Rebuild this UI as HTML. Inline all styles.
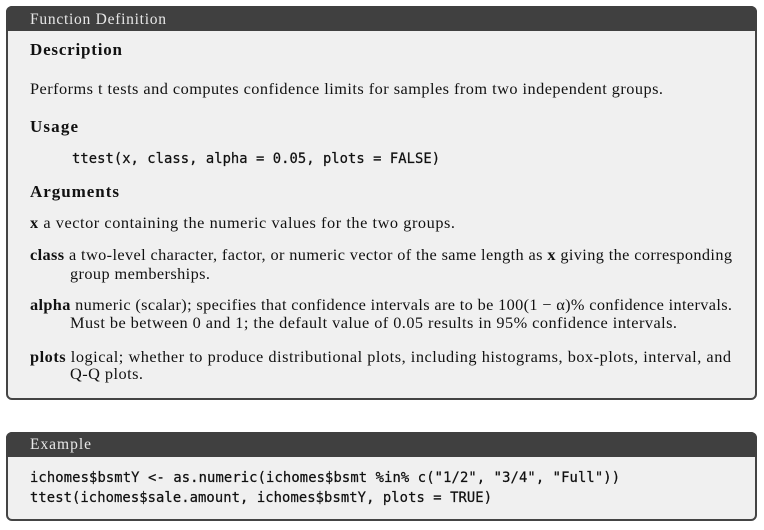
<!DOCTYPE html>
<html><head><meta charset="utf-8"><style>
html,body{margin:0;padding:0;background:#fff;}
svg{display:block;}
.s{font-family:"Liberation Serif",serif;font-size:16.3px;fill:#111;}
.b{font-weight:bold;}
.hd{font-size:17px;}
.h{font-family:"Liberation Serif",serif;font-size:15.5px;fill:#e8e8e8;}
.m{font-family:"DejaVu Sans Mono",monospace;font-size:13.8px;fill:#111;stroke:#111;stroke-width:0.25px;}
</style></head><body>
<svg width="764" height="530" viewBox="0 0 764 530">
<g>
<rect x="7" y="7" width="749" height="392" rx="5" fill="#f0f0f0" stroke="#444" stroke-width="2"/>
<path d="M6,31 V12 a6,6 0 0 1 6,-6 H751 a6,6 0 0 1 6,6 V31 Z" fill="#404040"/>
<text class="h" x="30" y="24" textLength="136">Function Definition</text>
<text class="s b hd" x="30" y="55" textLength="92">Description</text>
<text class="s" x="30" y="94" textLength="633">Performs t tests and computes confidence limits for samples from two independent groups.</text>
<text class="s b hd" x="30" y="132" textLength="48">Usage</text>
<text class="m" x="72" y="163" textLength="368">ttest(x, class, alpha = 0.05, plots = FALSE)</text>
<text class="s b hd" x="30" y="197" textLength="89">Arguments</text>
<text class="s" x="30" y="228" textLength="425"><tspan class="b">x</tspan> a vector containing the numeric values for the two groups.</text>
<text class="s" x="30" y="260" textLength="702"><tspan class="b">class</tspan> a two-level character, factor, or numeric vector of the same length as <tspan class="b">x</tspan> giving the corresponding</text>
<text class="s" x="70" y="279" textLength="140">group memberships.</text>
<text class="s" x="30" y="310" textLength="702"><tspan class="b">alpha</tspan> numeric (scalar); specifies that confidence intervals are to be 100(1 − α)% confidence intervals.</text>
<text class="s" x="70" y="328" textLength="607">Must be between 0 and 1; the default value of 0.05 results in 95% confidence intervals.</text>
<text class="s" x="30" y="362" textLength="701"><tspan class="b">plots</tspan> logical; whether to produce distributional plots, including histograms, box-plots, interval, and</text>
<text class="s" x="70" y="379" textLength="73">Q-Q plots.</text>
</g>
<g>
<rect x="7" y="433" width="749" height="87" rx="5" fill="#f0f0f0" stroke="#444" stroke-width="2"/>
<path d="M6,457 V438 a6,6 0 0 1 6,-6 H751 a6,6 0 0 1 6,6 V457 Z" fill="#404040"/>
<text class="h" x="30" y="449" textLength="61">Example</text>
<text class="m" x="30" y="482" textLength="590">ichomes$bsmtY &lt;- as.numeric(ichomes$bsmt %in% c("1/2", "3/4", "Full"))</text>
<text class="m" x="30" y="502" textLength="462">ttest(ichomes$sale.amount, ichomes$bsmtY, plots = TRUE)</text>
</g>
</svg>
</body></html>
